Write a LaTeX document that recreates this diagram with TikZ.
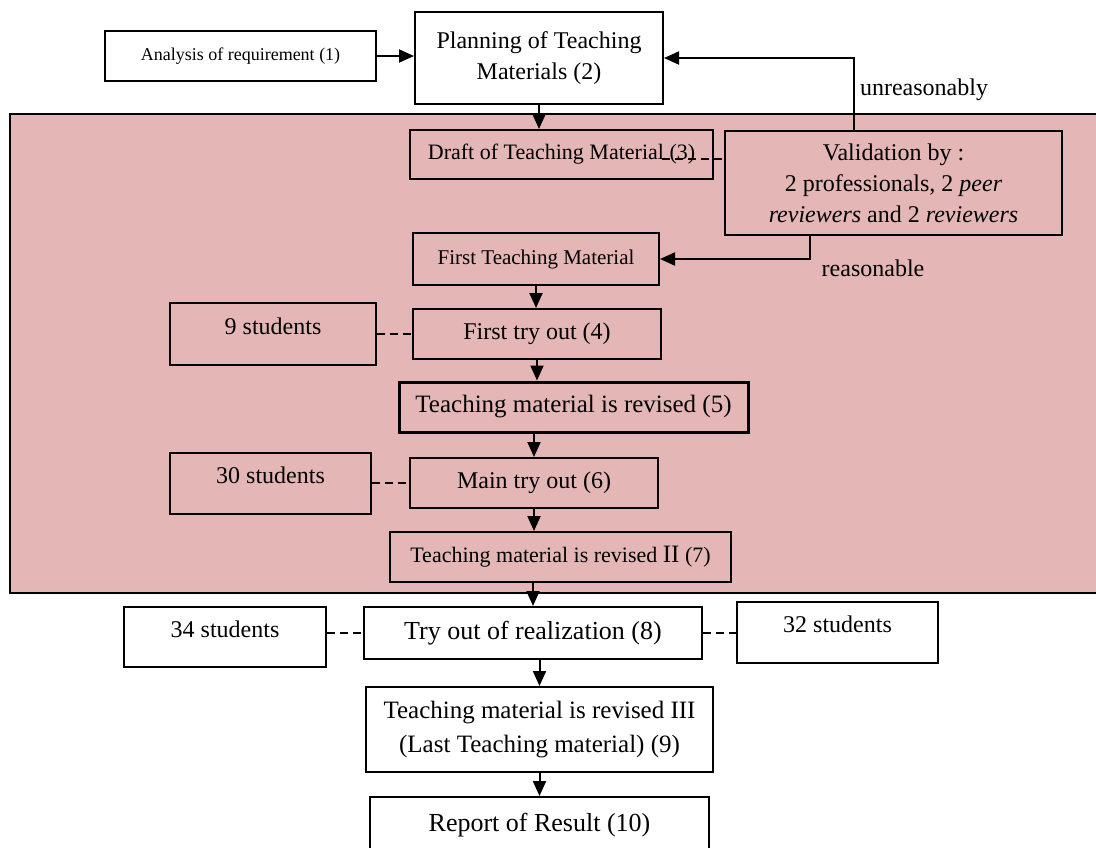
\documentclass[tikz,border=0pt]{standalone}
\usepackage{fontspec}
\setmainfont{Liberation Serif}
\usetikzlibrary{arrows.meta}
\definecolor{pinkbg}{RGB}{228,182,182}
\begin{document}
\begin{tikzpicture}[x=0.5pt,y=-0.5pt,
  box/.style={draw=black,line width=1pt,inner sep=0pt,align=center,font=\fontsize{12}{15.5}\selectfont},
  arr/.style={line width=1pt,-{Triangle[length=7.5pt,width=6.5pt]}},
  dsh/.style={line width=1pt,dash pattern=on 4pt off 2.5pt},
  upper/.style={text height=8pt,text depth=8pt},
  lbl/.style={inner sep=0pt,font=\fontsize{12}{14}\selectfont}]
\useasboundingbox (0,0) rectangle (1096,847);
\clip (0,0) rectangle (1096,847);
% shaded region
\fill[pinkbg] (10,114) rectangle (1096,593);
\draw[line width=1pt] (1096,114) -- (10,114) -- (10,593) -- (1096,593);
% nodes
\node[box,minimum width=135.5pt,minimum height=25pt,font=\fontsize{9}{11}\selectfont] (a1) at (240.5,56) {Analysis of requirement (1)};
\node[box,minimum width=124pt,minimum height=46pt] (a2) at (539,58) {Planning of Teaching\\Materials (2)};
\node[box,minimum width=151.5pt,minimum height=24.5pt,font=\fontsize{11}{12}\selectfont] (a3) at (561.5,154.5) {Draft of Teaching Material (3)};
\node[box,minimum width=168.5pt,minimum height=52pt,font=\fontsize{12}{15.5}\selectfont] (val) at (893.5,183) {Validation by :\\2 professionals, 2 \textit{peer}\\\textit{reviewers} and 2 \textit{reviewers}};
\node[box,minimum width=123pt,minimum height=26pt,font=\fontsize{10.5}{12}\selectfont] (ftm) at (536,259) {First Teaching Material};
\node[box,upper,minimum width=103pt,minimum height=31pt] (s9) at (273,334) {9 students};
\node[box,minimum width=124pt,minimum height=25pt] (t4) at (537,334) {First try out (4)};
\node[box,line width=1.5pt,minimum width=174.5pt,minimum height=25pt,font=\fontsize{12.5}{14}\selectfont] (r5) at (573.5,407) {Teaching material is revised (5)};
\node[box,upper,minimum width=100.5pt,minimum height=30.5pt] (s30) at (270.5,483.5) {30 students};
\node[box,minimum width=124pt,minimum height=25pt] (t6) at (534,483) {Main try out (6)};
\node[box,minimum width=170.5pt,minimum height=25pt,font=\fontsize{11}{13}\selectfont] (r7) at (560.5,557) {Teaching material is revised {\fontsize{12.5}{13}\selectfont II} (7)};
\node[box,minimum width=169pt,minimum height=26pt,font=\fontsize{13}{15}\selectfont] (t8) at (533,633) {Try out of realization (8)};
\node[box,upper,minimum width=101pt,minimum height=30pt] (s34) at (225,637) {34 students};
\node[box,upper,minimum width=100.5pt,minimum height=30.5pt] (s32) at (837.5,632.5) {32 students};
\node[box,minimum width=173.5pt,minimum height=42.5pt,font=\fontsize{12.5}{17}\selectfont] (r9) at (539.5,729.5) {Teaching material is revised III\\(Last Teaching material) (9)};
\node[box,minimum width=169.5pt,minimum height=36.5pt,text height=9pt,text depth=11.5pt,font=\fontsize{13}{15}\selectfont] (r10) at (539.5,833.5) {Report of Result (10)};
\node[lbl] (lu) at (924,90) {unreasonably};
\node[lbl] (lr) at (873,268) {reasonable};
% helper coordinates
\coordinate (d3) at (662,159);
\coordinate (u1) at (854,0);
\coordinate (q1) at (810,0);
% connectors
\draw[arr] (a1.east) -- (a1.east -| a2.west);
\draw[arr] (a2.south) -- (a2.south |- a3.north);
\draw[dsh] (d3) -- (d3 -| val.west);
\draw[arr] (val.north -| u1) |- (a2.east);
\draw[arr] (val.south -| q1) |- (ftm.east);
\draw[arr] (ftm.south) -- (ftm.south |- t4.north);
\draw[dsh] (s9.east |- t4.west) -- (t4.west);
\draw[arr] (t4.south) -- (t4.south |- r5.north);
\draw[arr] (t6.north |- r5.south) -- (t6.north);
\draw[dsh] (s30.east |- t6.west) -- (t6.west);
\draw[arr] (t6.south) -- (t6.south |- r7.north);
\draw[arr] (t8.north |- r7.south) -- (t8.north);
\draw[dsh] (s34.east |- t8.west) -- (t8.west);
\draw[dsh] (t8.east) -- (t8.east -| s32.west);
\draw[arr] (r9.north |- t8.south) -- (r9.north);
\draw[arr] (r9.south) -- (r9.south |- r10.north);
\end{tikzpicture}
\end{document}
